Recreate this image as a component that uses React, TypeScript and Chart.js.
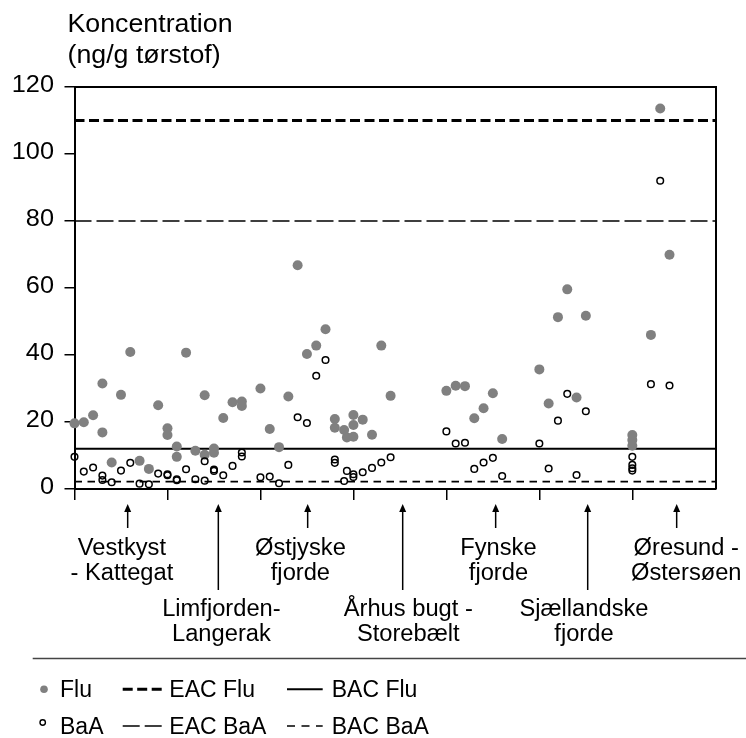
import { useEffect, useRef } from "react";
import { Chart, registerables } from "chart.js";

Chart.register(...registerables);

// Station index (x) and concentration (ng/g dry weight) for fluoranthene
const fluX = [0, 1, 2, 3, 3, 4, 5, 6, 7, 8, 9, 10, 10, 11, 11, 12, 13, 14, 14, 15, 15, 16, 17, 18, 18,
  20, 21, 22, 23, 24, 25, 26, 27, 28, 28, 29, 29.3, 30, 30, 30, 31, 32, 33, 34,
  40, 41, 42, 43, 44, 45, 46, 50, 51, 52, 53, 54, 55, 60, 60, 60, 62, 63, 64];
const fluY = [19.6, 19.9, 22.0, 31.5, 16.9, 7.9, 28.1, 40.9, 8.4, 6.0, 25.0, 18.1, 16.1, 12.7, 9.6, 40.7, 11.4, 28.0, 10.2, 12.1, 10.8, 21.2, 25.9, 26.1, 24.8,
  30.0, 17.9, 12.5, 27.6, 66.8, 40.3, 42.8, 47.7, 20.9, 18.3, 17.6, 15.4, 22.1, 19.1, 15.6, 20.7, 16.2, 42.8, 27.8,
  29.3, 30.8, 30.7, 21.1, 24.1, 28.6, 14.9, 35.7, 25.5, 51.3, 59.6, 27.3, 51.7, 16.1, 14.6, 12.9, 46.0, 113.6, 69.9];

// Station index (x) and concentration for benz[a]anthracene
const baaX = [0, 1, 2, 3, 3, 4, 5, 6, 7, 8, 9, 10, 10, 11, 11, 12, 13, 14, 14, 15, 15, 16, 17, 18, 18,
  20, 21, 22, 23, 24, 25, 26, 27, 28, 28, 29, 29.3, 30, 30, 31, 32, 33, 34,
  40, 41, 42, 43, 44, 45, 46, 50, 51, 52, 53, 54, 55, 60, 60, 60, 60, 62, 63, 64];
const baaY = [9.6, 5.2, 6.4, 4.0, 2.7, 2.0, 5.5, 7.8, 1.6, 1.4, 4.6, 4.4, 4.1, 2.9, 2.6, 5.9, 2.9, 8.3, 2.5, 5.8, 5.4, 4.1, 6.9, 10.9, 9.7,
  3.5, 3.7, 1.7, 7.2, 21.4, 19.7, 33.8, 38.5, 8.8, 7.8, 2.4, 5.4, 4.4, 3.6, 5.0, 6.3, 7.9, 9.5,
  17.2, 13.6, 13.8, 6.0, 7.9, 9.3, 3.9, 13.6, 6.1, 20.4, 28.4, 4.2, 23.2, 9.6, 7.2, 6.2, 5.5, 31.3, 92.0, 30.9];

// Assessment criteria
const EAC_FLU = 110;
const BAC_FLU = 12;
const EAC_BAA = 80;
const BAC_BAA = 2.2;

const yTickValues = [0, 20, 40, 60, 80, 100, 120];
const xMax = 69;
const groupBoundaries = [0, 10, 20, 30, 40, 50, 60];

// Sea areas along the x axis
const groupNames = [
  ["Vestkyst", "- Kattegat"],
  ["Limfjorden-", "Langerak"],
  ["Østjyske", "fjorde"],
  ["Århus bugt -", "Storebælt"],
  ["Fynske", "fjorde"],
  ["Sjællandske", "fjorde"],
  ["Øresund -", "Østersøen"],
];
const groupArrowX = [5.72, 15.47, 25.08, 35.3, 45.3, 55.2, 64.77];
const groupLabelX = [5.1, 15.8, 24.3, 35.9, 45.6, 54.8, 65.8];
const groupLowered = [false, true, false, true, false, true, false];

const titleLines = ["Koncentration", "(ng/g tørstof)"];

const FONT = '"Liberation Sans", Arial, Helvetica, sans-serif';
const GREY = "#808080";

function stretchText(ctx: CanvasRenderingContext2D, text: string, x: number, y: number, align: CanvasTextAlign, sx: number) {
  ctx.save();
  ctx.translate(x, y);
  ctx.scale(sx, 1);
  ctx.textAlign = align;
  ctx.fillText(text, 0, 0);
  ctx.restore();
}

const decorations = {
  id: "decorations",
  afterDraw(chart: any) {
    const ctx: CanvasRenderingContext2D = chart.ctx;
    const xs = chart.scales.x;
    const ys = chart.scales.y;
    const area = chart.chartArea;
    ctx.save();
    ctx.fillStyle = "#000";
    ctx.strokeStyle = "#000";

    // frame: top and right edges
    ctx.lineWidth = 2;
    ctx.beginPath();
    ctx.moveTo(area.left, area.top);
    ctx.lineTo(area.right, area.top);
    ctx.lineTo(area.right, area.bottom);
    ctx.stroke();

    // axis title
    ctx.font = `25px ${FONT}`;
    ctx.textBaseline = "alphabetic";
    stretchText(ctx, titleLines[0], 67.5, 31.5, "left", 1.07);
    stretchText(ctx, titleLines[1], 67.5, 63, "left", 1.07);

    // y tick labels
    ctx.font = `23px ${FONT}`;
    ctx.textBaseline = "middle";
    yTickValues.forEach((v) => {
      stretchText(ctx, String(v), 54, ys.getPixelForValue(v) - 1.5, "right", 1.1);
    });

    // sea-area arrows and labels
    ctx.textBaseline = "alphabetic";
    ctx.lineWidth = 1.5;
    groupNames.forEach((lines, i) => {
      const ax = xs.getPixelForValue(groupArrowX[i]);
      const tip = 504;
      const end = groupLowered[i] ? 590 : 528;
      ctx.beginPath();
      ctx.moveTo(ax, tip + 6);
      ctx.lineTo(ax, end);
      ctx.stroke();
      ctx.beginPath();
      ctx.moveTo(ax, tip);
      ctx.lineTo(ax - 3.5, tip + 8);
      ctx.lineTo(ax + 3.5, tip + 8);
      ctx.closePath();
      ctx.fill();
      const lx = xs.getPixelForValue(groupLabelX[i]);
      const base = groupLowered[i] ? 616 : 555;
      lines.forEach((t, k) => stretchText(ctx, t, lx, base + k * 25, "center", 1.03));
    });

    // separator above legend
    ctx.strokeStyle = "#444";
    ctx.lineWidth = 1.5;
    ctx.beginPath();
    ctx.moveTo(32.7, 658.5);
    ctx.lineTo(746, 658.5);
    ctx.stroke();

    // legend built from the datasets
    const ds = chart.data.datasets;
    const find = (label: string) => ds.find((d: any) => d.label === label);
    const rows = [
      { y: 689.3, base: 697, marker: "Flu", lines: ["EAC Flu", "BAC Flu"] },
      { y: 726, base: 734.3, marker: "BaA", lines: ["EAC BaA", "BAC BaA"] },
    ];
    const lineCols = [
      { x1: 122.7, x2: 161.7, tx: 169.3 },
      { x1: 287, x2: 322.7, tx: 331.7 },
    ];
    ctx.font = `23px ${FONT}`;
    rows.forEach((row) => {
      const m = find(row.marker);
      ctx.save();
      if (row.marker === "Flu") {
        ctx.fillStyle = m.backgroundColor;
        ctx.beginPath();
        ctx.arc(44, row.y, 3.8, 0, Math.PI * 2);
        ctx.fill();
      } else {
        ctx.strokeStyle = m.borderColor;
        ctx.lineWidth = 1.4;
        ctx.beginPath();
        ctx.arc(42.7, row.y - 3.5, 2.7, 0, Math.PI * 2);
        ctx.stroke();
      }
      ctx.restore();
      ctx.fillStyle = "#000";
      stretchText(ctx, m.label, 60, row.base, "left", 1.0);
      row.lines.forEach((lab, c) => {
        const d = find(lab);
        const col = lineCols[c];
        ctx.save();
        ctx.strokeStyle = d.borderColor;
        ctx.lineWidth = d.borderWidth;
        ctx.setLineDash(d.legendDash || d.borderDash || []);
        ctx.beginPath();
        ctx.moveTo(col.x1, row.y);
        ctx.lineTo(col.x2, row.y);
        ctx.stroke();
        ctx.restore();
        stretchText(ctx, d.label, col.tx, row.base, "left", 1.0);
      });
    });
    ctx.restore();
  },
};

export default function App() {
  const canvasRef = useRef<HTMLCanvasElement | null>(null);

  useEffect(() => {
    const canvas = canvasRef.current;
    if (!canvas) return;
    const span = (v: number) => [{ x: 0, y: v }, { x: xMax, y: v }];
    const chart = new Chart(canvas, {
      type: "scatter",
      data: {
        datasets: [
          {
            label: "BaA",
            data: baaX.map((x, i) => ({ x, y: baaY[i] })),
            pointRadius: 3.3,
            pointBorderWidth: 1.5,
            borderColor: "#000",
            backgroundColor: "rgba(0,0,0,0)",
            pointBackgroundColor: "rgba(0,0,0,0)",
            pointBorderColor: "#000",
            clip: false,
            order: 1,
          },
          {
            label: "Flu",
            data: fluX.map((x, i) => ({ x, y: fluY[i] })),
            pointRadius: 5,
            pointBorderWidth: 0,
            backgroundColor: GREY,
            pointBackgroundColor: GREY,
            borderColor: GREY,
            clip: false,
            order: 2,
          },
          {
            type: "line",
            label: "EAC Flu",
            data: span(EAC_FLU),
            borderColor: "#000",
            borderWidth: 3,
            borderDash: [10, 4.5],
            pointRadius: 0,
            order: 3,
          },
          {
            type: "line",
            label: "BAC Flu",
            data: span(BAC_FLU),
            borderColor: "#000",
            borderWidth: 2,
            pointRadius: 0,
            order: 3,
          },
          {
            type: "line",
            label: "EAC BaA",
            data: span(EAC_BAA),
            borderColor: "#000",
            borderWidth: 1.6,
            borderDash: [17, 5],
            pointRadius: 0,
            order: 3,
          },
          {
            type: "line",
            label: "BAC BaA",
            data: span(BAC_BAA),
            borderColor: "#000",
            borderWidth: 1.6,
            borderDash: [7.5, 5.5],
            legendDash: [8, 6.5],
            pointRadius: 0,
            order: 3,
          },
        ] as any,
      },
      options: {
        animation: false,
        responsive: false,
        devicePixelRatio: 1,
        layout: { padding: { top: 87, right: 30, left: 0, bottom: 0 } },
        plugins: { legend: { display: false }, tooltip: { enabled: false } },
        scales: {
          x: {
            type: "linear",
            min: 0,
            max: xMax,
            position: "bottom",
            grid: { drawOnChartArea: false, drawTicks: true, tickLength: 11, color: "#000", lineWidth: 1.5 },
            border: { display: true, color: "#000", width: 2 },
            ticks: { stepSize: 10, display: false },
            afterBuildTicks: (scale: any) => {
              scale.ticks = groupBoundaries.map((v) => ({ value: v }));
            },
            afterFit: (scale: any) => {
              scale.height = 738 - 489;
            },
          },
          y: {
            type: "linear",
            min: 0,
            max: 120,
            grid: { drawOnChartArea: false, drawTicks: true, tickLength: 10, color: "#000", lineWidth: 1.5 },
            border: { display: true, color: "#000", width: 2 },
            ticks: { stepSize: 20, display: false },
            afterBuildTicks: (scale: any) => {
              scale.ticks = yTickValues.map((v) => ({ value: v }));
            },
            afterFit: (scale: any) => {
              scale.width = 74.5;
            },
          },
        },
      } as any,
      plugins: [decorations],
    });
    return () => chart.destroy();
  }, []);

  return (
    <div style={{ position: "fixed", left: 0, top: 0, width: 746, height: 738, background: "#fff" }}>
      <canvas ref={canvasRef} width={746} height={738} style={{ display: "block" }} />
    </div>
  );
}
